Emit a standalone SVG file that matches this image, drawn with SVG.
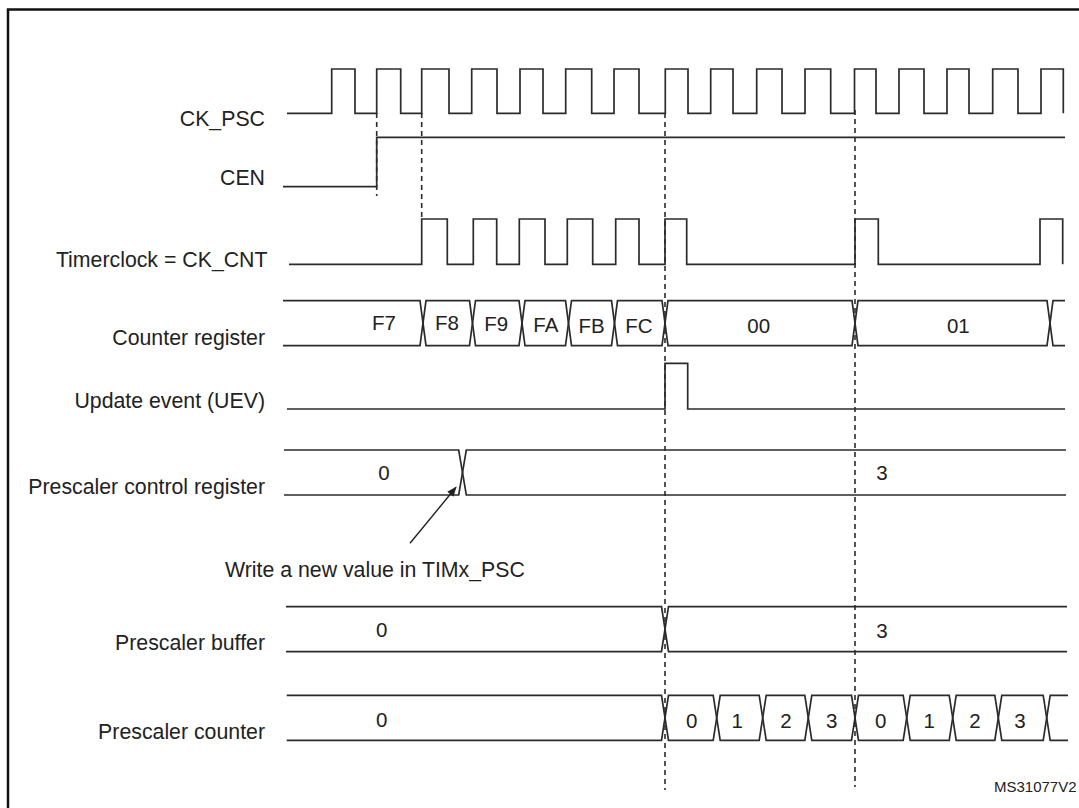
<svg xmlns="http://www.w3.org/2000/svg" width="1079" height="808" viewBox="0 0 1079 808">
<defs>
<style>
.lbl{font-family:"Liberation Sans",Arial,sans-serif;font-size:21.3px;fill:#222;text-anchor:end}
.val{font-family:"Liberation Sans",Arial,sans-serif;font-size:20.5px;fill:#222;text-anchor:middle}
.note{font-family:"Liberation Sans",Arial,sans-serif;font-size:21.3px;fill:#222}
.id{font-family:"Liberation Sans",Arial,sans-serif;font-size:15px;fill:#222}
.sig{fill:none;stroke:#2b2b2b;stroke-width:1.7;stroke-linejoin:miter}
.dash{fill:none;stroke:#2b2b2b;stroke-width:1.6;stroke-dasharray:5,4}
.frame{fill:none;stroke:#111;stroke-width:2.5}
</style>
<marker id="ah" markerWidth="10" markerHeight="8" refX="9" refY="4" orient="auto" markerUnits="userSpaceOnUse">
<path d="M0,0 L10,4 L0,8 Z" fill="#222"/>
</marker>
</defs>
<rect width="1079" height="808" fill="#fff"/>
<path class="frame" d="M8,808 V9.5 H1079"/>

<g id="ck_psc">
<text class="lbl" x="265" y="126">CK_PSC</text>
<path class="sig" d="M287,113.3 H331.7 V69 H355 V113.3 H376.7 V69 H400.7 V113.3 H421.7 V69 H449 V113.3 H471.7 V69 H497 V113.3 H520 V69 H543 V113.3 H565.7 V69 H591.7 V113.3 H614 V69 H639 V113.3 H665.3 V69 H688 V113.3 H710.7 V69 H733 V113.3 H756.7 V69 H782 V113.3 H805 V69 H830.7 V113.3 H854.5 V69 H876 V113.3 H899 V69 H924 V113.3 H947 V69 H969 V113.3 H992.7 V69 H1018 V113.3 H1041 V69 H1063.3 V113.3"/>
</g>

<g id="cen">
<text class="lbl" x="265" y="185">CEN</text>
<path class="sig" d="M283,186.7 H376.7 V137.3 H1065"/>
</g>

<g id="timerclock">
<text class="lbl" x="267.5" y="267.3">Timerclock = CK_CNT</text>
<path class="sig" d="M289,264.3 H421.7 V219 H447.3 V264.3 H473.3 V219 H496.7 V264.3 H519.3 V219 H545 V264.3 H567.3 V219 H592.7 V264.3 H615.7 V219 H639 V264.3 H665 V219 H686.7 V264.3 H855 V219 H878.3 V264.3 H1040 V219 H1062.7 V264.3"/>
</g>

<g id="counter_register">
<text class="lbl" x="265" y="345">Counter register</text>
<polyline class="sig" points="283,300.7 420,300.7 426,345.7 469.5,345.7 475.5,300.7 519,300.7 525,345.7 565.5,345.7 571.5,300.7 611.5,300.7 617.5,345.7 662,345.7 668,300.7 852,300.7 858,345.7 1047,345.7 1053,300.7 1065,300.7"/>
<polyline class="sig" points="283,345.7 420,345.7 426,300.7 469.5,300.7 475.5,345.7 519,345.7 525,300.7 565.5,300.7 571.5,345.7 611.5,345.7 617.5,300.7 662,300.7 668,345.7 852,345.7 858,300.7 1047,300.7 1053,345.7 1065,345.7"/>
<text class="val" x="384" y="330">F7</text>
<text class="val" x="447" y="330">F8</text>
<text class="val" x="496.2" y="330.5">F9</text>
<text class="val" x="545.8" y="331.5">FA</text>
<text class="val" x="591.7" y="333">FB</text>
<text class="val" x="638.8" y="333">FC</text>
<text class="val" x="758.7" y="333">00</text>
<text class="val" x="958.3" y="333">01</text>
</g>

<g id="update_event">
<text class="lbl" x="265" y="407.5">Update event (UEV)</text>
<path class="sig" d="M287,409 H665 V363.3 H687.7 V409 H1065"/>
</g>

<g id="prescaler_control_register">
<text class="lbl" x="265" y="494.3">Prescaler control register</text>
<polyline class="sig" points="284,450 458.7,450 466.3,495 1066,495"/>
<polyline class="sig" points="284,495 458.7,495 466.3,450 1066,450"/>
<text class="val" x="384" y="480">0</text>
<text class="val" x="882" y="480">3</text>
</g>

<g id="write_note">
<text class="note" x="225" y="576.7">Write a new value in TIMx_PSC</text>
</g>

<g id="prescaler_buffer">
<text class="lbl" x="265" y="650">Prescaler buffer</text>
<polyline class="sig" points="286,606.7 661.5,606.7 668.5,651.7 1067,651.7"/>
<polyline class="sig" points="286,651.7 661.5,651.7 668.5,606.7 1067,606.7"/>
<text class="val" x="381.7" y="637">0</text>
<text class="val" x="882" y="637.7">3</text>
</g>

<g id="prescaler_counter">
<text class="lbl" x="265" y="739.3">Prescaler counter</text>
<polyline class="sig" points="286.7,695.3 661.5,695.3 668.5,740.3 713.2,740.3 720.2,695.3 759.2,695.3 766.2,740.3 804.8,740.3 811.8,695.3 851.5,695.3 858.5,740.3 903.2,740.3 910.2,695.3 949.2,695.3 956.2,740.3 994.8,740.3 1001.8,695.3 1043.2,695.3 1050.2,740.3 1068,740.3"/>
<polyline class="sig" points="286.7,740.3 661.5,740.3 668.5,695.3 713.2,695.3 720.2,740.3 759.2,740.3 766.2,695.3 804.8,695.3 811.8,740.3 851.5,740.3 858.5,695.3 903.2,695.3 910.2,740.3 949.2,740.3 956.2,695.3 994.8,695.3 1001.8,740.3 1043.2,740.3 1050.2,695.3 1068,695.3"/>
<text class="val" x="381.7" y="727">0</text>
<text class="val" x="691.7" y="728.3">0</text>
<text class="val" x="737.3" y="728.3">1</text>
<text class="val" x="786" y="728.3">2</text>
<text class="val" x="831.7" y="728.3">3</text>
<text class="val" x="880.7" y="728.3">0</text>
<text class="val" x="929.3" y="728.3">1</text>
<text class="val" x="975" y="728.3">2</text>
<text class="val" x="1020" y="728.3">3</text>
</g>

<g id="connectors">
<line class="dash" x1="376.7" y1="113" x2="376.7" y2="196"/>
<line class="dash" x1="421.7" y1="113" x2="421.7" y2="219"/>
<line class="dash" x1="665" y1="113" x2="665" y2="790"/>
<line class="dash" x1="855" y1="110" x2="855" y2="787"/>
<line x1="410" y1="543.3" x2="456" y2="487.3" stroke="#222" stroke-width="1.4" marker-end="url(#ah)"/>
</g>

<text class="id" x="994" y="791.7">MS31077V2</text>
</svg>
